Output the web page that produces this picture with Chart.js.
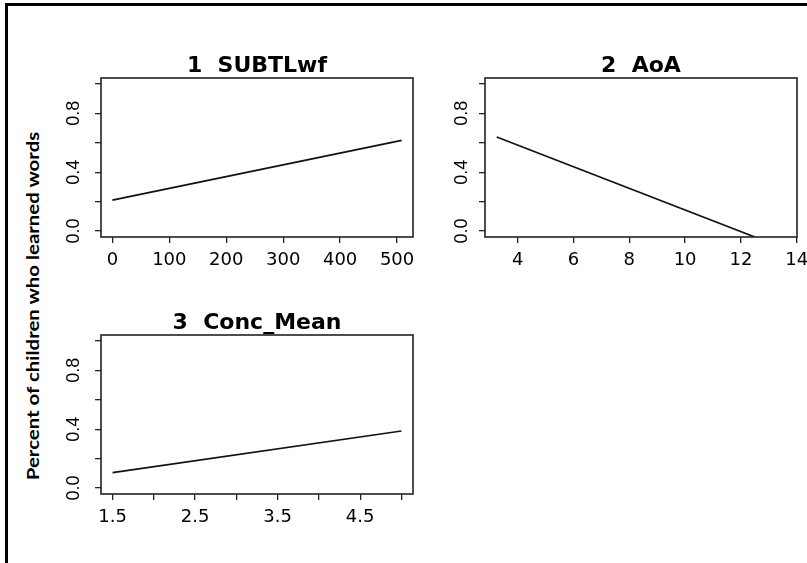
<!DOCTYPE html>
<html lang="en">
<head>
<meta charset="utf-8">
<title>Effect plots</title>
<script src="https://cdn.jsdelivr.net/npm/chart.js@4"></script>
<style>
  body { margin: 0; background: #fff; width: 807px; height: 563px; overflow: hidden; position: relative; }
  .frame { position: absolute; left: 5px; top: 3px; width: 900px; height: 600px; border-left: 3px solid #000; border-top: 3px solid #000; }
  canvas { position: absolute; }
  #ylab { position: absolute; left: 32px; top: 306px; transform: translate(-50%, -50%) rotate(-90deg) scaleX(1.2);
          font: bold 17px Lato, sans-serif; white-space: nowrap; color: #000; }
</style>
</head>
<body>
<div class="frame"></div>
<div id="ylab">Percent of children who learned words</div>
<canvas id="p1" width="380" height="250" style="left:45px;top:40px"></canvas>
<canvas id="p2" width="410" height="250" style="left:420px;top:40px"></canvas>
<canvas id="p3" width="380" height="250" style="left:45px;top:297px"></canvas>

<script>
// fitted effect lines, one per predictor
const panelTitles = ['1  SUBTLwf', '2  AoA', '3  Conc_Mean'];
const subtlX = [0, 508];
const subtlY = [0.21, 0.616];
const aoaX = [3.25, 12.5];
const aoaY = [0.639, -0.04];
const concX = [1.5, 5.0];
const concY = [0.105, 0.388];

// tick values and labels
const yTicks = [0, 0.2, 0.4, 0.6, 0.8, 1.0];
const yTickLabels = ['0.0', '', '0.4', '', '0.8', ''];
const subtlTicks = [0, 100, 200, 300, 400, 500];
const subtlTickLabels = ['0', '100', '200', '300', '400', '500'];
const aoaTicks = [4, 6, 8, 10, 12, 14];
const aoaTickLabels = ['4', '6', '8', '10', '12', '14'];
const concTicks = [1.5, 2, 2.5, 3, 3.5, 4, 4.5, 5];
const concTickLabels = ['1.5', '', '2.5', '', '3.5', '', '4.5', ''];

// box round the plotting region
const plotBox = {
    id: 'plotBox',
    afterDatasetsDraw(chart) {
        const { ctx, chartArea: a } = chart;
        ctx.save();
        ctx.strokeStyle = '#222';
        ctx.lineWidth = 1.6;
        ctx.strokeRect(a.left, a.top, a.width, a.height);
        ctx.restore();
    }
};

function makePanel(id, title, xs, ys, xTicks, xLabels, xMin, xMax, yWidth, yPad, padRight) {
    const tickGrid = { drawOnChartArea: false, drawTicks: true, tickLength: 6, color: '#222', lineWidth: 1.3 };
    new Chart(document.getElementById(id), {
        type: 'scatter',
        data: {
            datasets: [{
                data: xs.map((x, i) => ({ x: x, y: ys[i] })),
                showLine: true,
                borderColor: '#111',
                borderWidth: 1.7,
                pointRadius: 0,
                tension: 0
            }]
        },
        options: {
            responsive: false,
            animation: false,
            layout: { padding: { left: 0, top: 0, right: padRight, bottom: 0 } },
            plugins: {
                legend: { display: false },
                tooltip: { enabled: false },
                title: {
                    display: true,
                    text: title,
                    fullSize: false,
                    color: '#000',
                    font: { family: 'DejaVu Sans', size: 22, weight: 'bold', lineHeight: 1 },
                    padding: { top: 15, bottom: 1 }
                }
            },
            scales: {
                x: {
                    type: 'linear',
                    min: xMin,
                    max: xMax,
                    grid: tickGrid,
                    border: { display: false },
                    afterBuildTicks: s => { s.ticks = xTicks.map(v => ({ value: v })); },
                    afterFit: s => { s.height = 53; },
                    ticks: {
                        autoSkip: false,
                        maxRotation: 0,
                        padding: 7,
                        color: '#000',
                        font: { family: 'DejaVu Sans', size: 18, lineHeight: 1.2 },
                        callback: (v, i) => xLabels[i]
                    }
                },
                y: {
                    type: 'linear',
                    min: -0.04,
                    max: 1.04,
                    grid: tickGrid,
                    border: { display: false },
                    afterBuildTicks: s => { s.ticks = yTicks.map(v => ({ value: v })); },
                    afterFit: s => { s.width = yWidth; },
                    ticks: {
                        minRotation: 90,
                        maxRotation: 90,
                        crossAlign: 'center',
                        padding: yPad,
                        color: '#000',
                        font: { family: 'Liberation Sans', size: 18 },
                        callback: (v, i) => yTickLabels[i]
                    }
                }
            }
        },
        plugins: [plotBox]
    });
}

makePanel('p1', panelTitles[0], subtlX, subtlY, subtlTicks, subtlTickLabels, -20, 528, 56, 8, 12);
makePanel('p2', panelTitles[1], aoaX, aoaY, aoaTicks, aoaTickLabels, 2.83, 14.01, 65, 4, 33);
makePanel('p3', panelTitles[2], concX, concY, concTicks, concTickLabels, 1.36, 5.14, 56, 8, 12);
</script>
</body>
</html>
